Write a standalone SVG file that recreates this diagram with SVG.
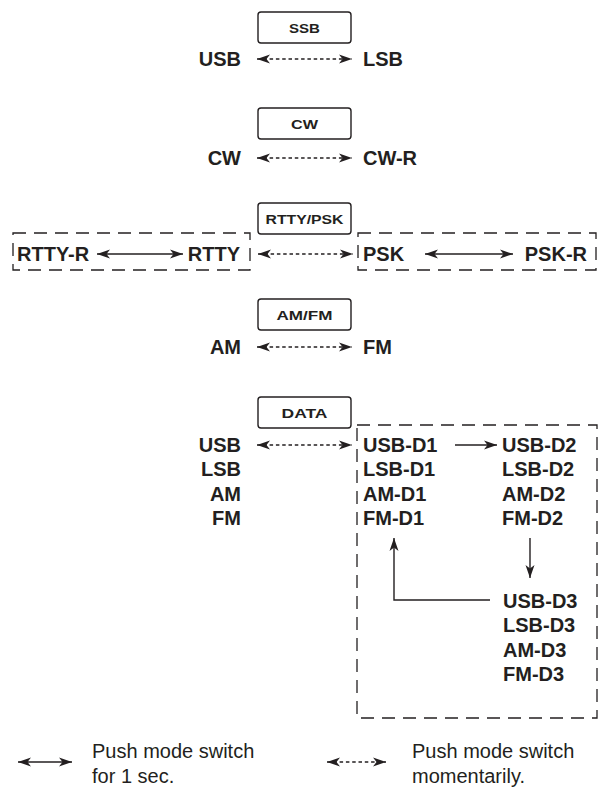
<svg xmlns="http://www.w3.org/2000/svg" width="607" height="789" viewBox="0 0 607 789">
<style>
.btn{fill:#fff;stroke:#231f20;stroke-width:1.4}
.bt{font-family:"Liberation Sans",Arial,sans-serif;font-weight:bold;font-size:13.5px;fill:#231f20;text-anchor:middle}
.m{font-family:"Liberation Sans",Arial,sans-serif;font-weight:bold;font-size:20px;fill:#231f20}
.e{text-anchor:end}
.lg{font-family:"Liberation Sans",Arial,sans-serif;font-size:20px;fill:#231f20}
.dot{stroke:#231f20;stroke-width:1.5;stroke-dasharray:3.5 2.8;fill:none}
.sol{stroke:#231f20;stroke-width:1.4;fill:none}
.box{stroke:#231f20;stroke-width:1.3;stroke-dasharray:13 8;fill:none}
</style>
<defs>
<marker id="ah" markerUnits="userSpaceOnUse" markerWidth="14" markerHeight="12" refX="13" refY="5" orient="auto-start-reverse" viewBox="0 0 14 10">
<path d="M0,0.5 L13,5 L0,9.5 L3.5,5 z" fill="#231f20"/>
</marker>
</defs>
<rect width="607" height="789" fill="#fff"/>

<g id="ssb">
<rect class="btn" x="258" y="12" width="93" height="31" rx="3"/>
<text class="bt" x="304.5" y="32.5" textLength="31" lengthAdjust="spacingAndGlyphs">SSB</text>
<text class="m e" x="241" y="66">USB</text>
<text class="m" x="363" y="66">LSB</text>
</g>

<g id="cw">
<rect class="btn" x="258" y="108" width="93" height="31" rx="3"/>
<text class="bt" x="304.5" y="128.5" textLength="27" lengthAdjust="spacingAndGlyphs">CW</text>
<text class="m e" x="241" y="165">CW</text>
<text class="m" x="363" y="165">CW-R</text>
</g>

<g id="rtty">
<rect class="btn" x="258" y="203" width="93" height="31" rx="3"/>
<text class="bt" x="304.5" y="223.5" textLength="78" lengthAdjust="spacingAndGlyphs">RTTY/PSK</text>
<rect class="box" x="13" y="233" width="237" height="37"/>
<text class="m" x="17" y="261">RTTY-R</text>
<text class="m e" x="240" y="261">RTTY</text>
<rect class="box" x="358" y="233" width="238" height="37"/>
<text class="m" x="363" y="261">PSK</text>
<text class="m e" x="587" y="261">PSK-R</text>
</g>

<g id="amfm">
<rect class="btn" x="258" y="299" width="93" height="31" rx="3"/>
<text class="bt" x="304.5" y="319.5" textLength="56" lengthAdjust="spacingAndGlyphs">AM/FM</text>
<text class="m e" x="241" y="354">AM</text>
<text class="m" x="363" y="354">FM</text>
</g>

<g id="data">
<rect class="btn" x="258" y="397" width="93" height="31" rx="3"/>
<text class="bt" x="304.5" y="417.5" textLength="46" lengthAdjust="spacingAndGlyphs">DATA</text>
<text class="m e" x="241" y="452">USB</text>
<text class="m e" x="241" y="476.3">LSB</text>
<text class="m e" x="241" y="500.6">AM</text>
<text class="m e" x="241" y="524.9">FM</text>
</g>

<g id="data-box">
<rect class="box" x="357" y="425" width="240" height="293"/>
</g>

<g id="d1">
<text class="m" x="363" y="452">USB-D1</text>
<text class="m" x="363" y="476.3">LSB-D1</text>
<text class="m" x="363" y="500.6">AM-D1</text>
<text class="m" x="363" y="524.9">FM-D1</text>
</g>
<g id="d2">
<text class="m" x="502" y="452">USB-D2</text>
<text class="m" x="502" y="476.3">LSB-D2</text>
<text class="m" x="502" y="500.6">AM-D2</text>
<text class="m" x="502" y="524.9">FM-D2</text>
</g>
<g id="d3">
<text class="m" x="503" y="608">USB-D3</text>
<text class="m" x="503" y="632.3">LSB-D3</text>
<text class="m" x="503" y="656.6">AM-D3</text>
<text class="m" x="503" y="680.9">FM-D3</text>
</g>

<g id="legend">
<text class="lg" x="92" y="758">Push mode switch</text>
<text class="lg" x="92" y="783">for 1 sec.</text>
<text class="lg" x="412" y="758">Push mode switch</text>
<text class="lg" x="412" y="783">momentarily.</text>
</g>

<g id="connectors">
<line class="dot" x1="257" y1="59" x2="352" y2="59" marker-start="url(#ah)" marker-end="url(#ah)"/>
<line class="dot" x1="257" y1="158" x2="352" y2="158" marker-start="url(#ah)" marker-end="url(#ah)"/>
<line class="dot" x1="258" y1="254" x2="353" y2="254" marker-start="url(#ah)" marker-end="url(#ah)"/>
<line class="sol" x1="97" y1="254" x2="183" y2="254" marker-start="url(#ah)" marker-end="url(#ah)"/>
<line class="sol" x1="425" y1="254" x2="513" y2="254" marker-start="url(#ah)" marker-end="url(#ah)"/>
<line class="dot" x1="257" y1="347" x2="352" y2="347" marker-start="url(#ah)" marker-end="url(#ah)"/>
<line class="dot" x1="257" y1="445" x2="352" y2="445" marker-start="url(#ah)" marker-end="url(#ah)"/>
<line class="sol" x1="455" y1="445" x2="497" y2="445" marker-end="url(#ah)"/>
<line class="sol" x1="530" y1="538" x2="530" y2="578" marker-end="url(#ah)"/>
<polyline class="sol" points="490,600 394,600 394,538" marker-end="url(#ah)"/>
<line class="sol" x1="18" y1="762" x2="72" y2="762" marker-start="url(#ah)" marker-end="url(#ah)"/>
<line class="dot" x1="327" y1="762" x2="386" y2="762" marker-start="url(#ah)" marker-end="url(#ah)"/>
</g>
</svg>
